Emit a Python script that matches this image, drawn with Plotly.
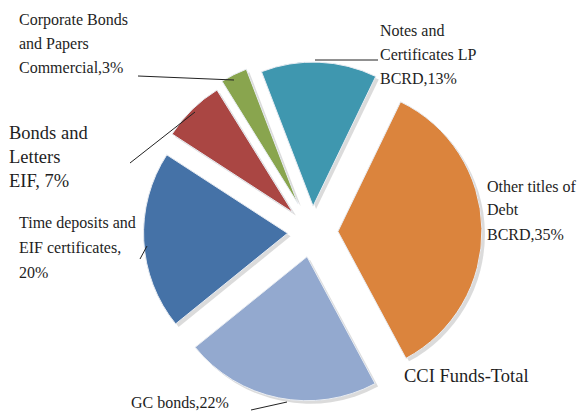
import plotly.graph_objects as go

# Portfolio composition of the CCI funds (percent of total)
categories = [
    "Notes and Certificates LP BCRD",
    "Other titles of Debt BCRD",
    "GC bonds",
    "Time deposits and EIF certificates",
    "Bonds and Letters EIF",
    "Corporate Bonds and Papers Commercial",
]
shares = [13, 35, 22, 20, 7, 3]
slice_colors = ["#3F97AF", "#DB843D", "#93A9CF", "#4572A7", "#AA4643", "#89A54E"]
pulls = [0.18, 0.18, 0.175, 0.17, 0.19, 0.22]

# Label text, split into lines
label_lines = [
    ["Notes and", "Certificates LP", "BCRD,13%"],
    ["Other titles of", "Debt", "BCRD,35%"],
    ["GC bonds,22%"],
    ["Time deposits and", "EIF certificates,", "20%"],
    ["Bonds and", "Letters", "EIF, 7%"],
    ["Corporate Bonds", "and Papers", "Commercial,3%"],
]
title_text = "CCI Funds-Total"

W, H = 579, 415
FONT = "Liberation Serif"
TXT = "#1e1e1e"

# pie placement (pixels)
cx, cy, radius = 312, 232, 144
half = radius * (1 + max(pulls))
dom_x = [(cx - half) / W, (cx + half) / W]
dom_y = [1 - (cy + half) / H, 1 - (cy - half) / H]

fig = go.Figure()

# soft drop shadow under the slices
sh = 3
fig.add_trace(go.Pie(
    values=shares, labels=categories, sort=False, direction="clockwise",
    rotation=-21, pull=pulls, textinfo="none", hoverinfo="skip",
    marker=dict(colors=["rgba(90,90,90,0.22)"] * len(shares),
                line=dict(width=0)),
    domain=dict(x=[dom_x[0] + sh / W, dom_x[1] + sh / W],
                y=[dom_y[0] - sh / H, dom_y[1] - sh / H]),
    showlegend=False,
))

fig.add_trace(go.Pie(
    values=shares, labels=categories, sort=False, direction="clockwise",
    rotation=-21, pull=pulls, textinfo="none",
    marker=dict(colors=slice_colors, line=dict(color="#E8ECF2", width=1)),
    domain=dict(x=dom_x, y=dom_y),
    showlegend=False,
))

# label blocks: (left x, first-line y, line step, font size), pixels
label_layout = [
    (379, 30, 24, 16),
    (486, 186, 24, 16),
    (130, 402, 24, 16),
    (18, 223, 24.5, 16),
    (8, 133, 24, 18.5),
    (18, 20, 24, 16),
]

annotations = []
for lines, (lx, ly, step, fs) in zip(label_lines, label_layout):
    for k, line in enumerate(lines):
        annotations.append(dict(
            x=lx / W, y=1 - (ly + k * step) / H, xref="paper", yref="paper",
            xanchor="left", yanchor="middle", text=line, showarrow=False,
            font=dict(family=FONT, size=fs, color=TXT),
            bgcolor="white" if len(lines) == 1 else "rgba(0,0,0,0)",
            borderpad=0,
        ))

annotations.append(dict(
    x=402 / W, y=1 - 376 / H, xref="paper", yref="paper",
    xanchor="left", yanchor="middle", text=title_text, showarrow=False,
    font=dict(family=FONT, size=18.5, color=TXT),
))

# leader lines (pixels)
leaders = [
    (315, 60, 378, 60),
    (138, 76, 234, 80),
    (130, 163, 195, 112),
    (140, 259, 147, 246),
    (251, 410, 287, 402),
]
shapes = [
    dict(type="line", xref="paper", yref="paper",
         x0=a / W, y0=1 - b / H, x1=c / W, y1=1 - d / H,
         line=dict(color="#222222", width=1))
    for a, b, c, d in leaders
]

fig.update_layout(
    width=W, height=H,
    margin=dict(l=0, r=0, t=0, b=0),
    paper_bgcolor="white", plot_bgcolor="white",
    font=dict(family=FONT),
    annotations=annotations, shapes=shapes,
)

fig.write_html("out.html")
